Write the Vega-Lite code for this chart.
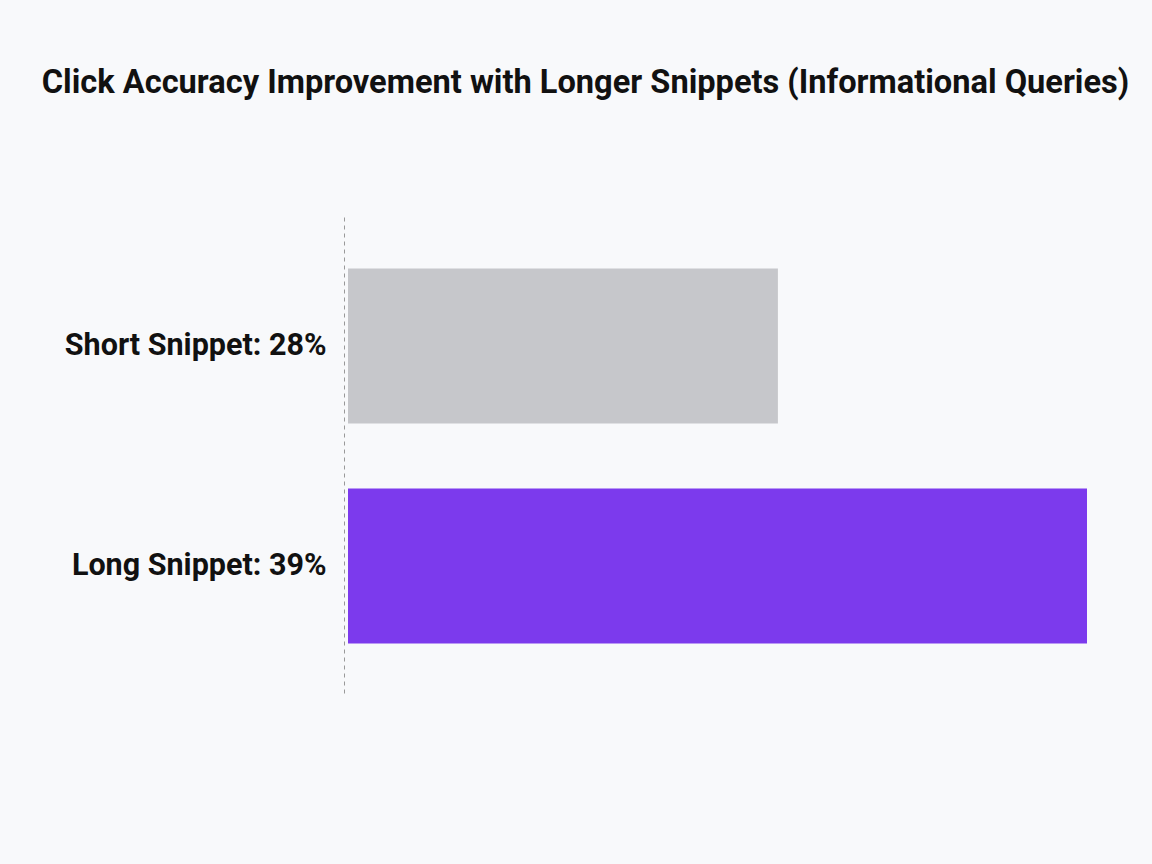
{
  "$schema": "https://vega.github.io/schema/vega-lite/v6.json",
  "autosize": "none",
  "width": 739,
  "height": 478,
  "padding": {"left": 348, "top": 217, "right": 65, "bottom": 169},
  "background": "#f8f9fb",
  "title": {
    "text": "Click Accuracy Improvement with Longer Snippets (Informational Queries)",
    "font": "Roboto",
    "fontSize": 32.6,
    "fontWeight": "bold",
    "color": "#111111",
    "anchor": "middle",
    "dx": -132,
    "offset": 117
  },
  "config": {"view": {"stroke": null}},
  "data": {
    "values": [
      {"label": "Short Snippet: 28%", "accuracy": 28},
      {"label": "Long Snippet: 39%", "accuracy": 39}
    ]
  },
  "mark": {"type": "bar"},
  "encoding": {
    "y": {
      "field": "label",
      "type": "nominal",
      "sort": null,
      "title": null,
      "scale": {"paddingInner": 0.2955, "paddingOuter": 0.234},
      "axis": {
        "offset": 4,
        "domainDash": [4, 4],
        "domainColor": "#999999",
        "domainWidth": 1,
        "ticks": false,
        "labelFont": "Roboto",
        "labelFontSize": 30.5,
        "labelFontWeight": "bold",
        "labelColor": "#111111",
        "labelPadding": 18,
        "labelLimit": 400
      }
    },
    "x": {
      "field": "accuracy",
      "type": "quantitative",
      "scale": {"domain": [12.7, 39], "zero": false, "nice": false},
      "axis": null
    },
    "x2": {"datum": 12.7},
    "color": {
      "field": "label",
      "type": "nominal",
      "scale": {"domain": ["Short Snippet: 28%", "Long Snippet: 39%"], "range": ["#c6c7cb", "#7c3aed"]},
      "legend": null
    }
  }
}
